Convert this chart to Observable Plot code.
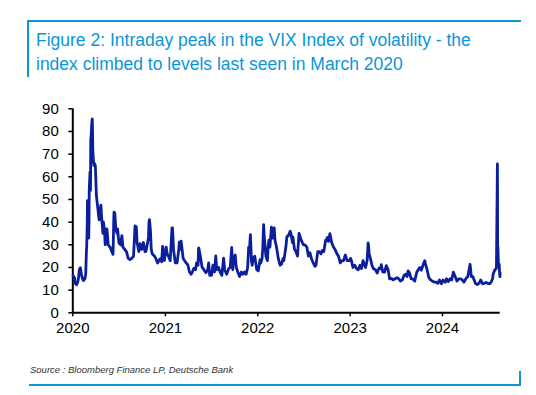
<!DOCTYPE html>
<html>
<head>
<meta charset="utf-8">
<script src="https://cdn.jsdelivr.net/npm/d3@7"></script>
<script src="https://cdn.jsdelivr.net/npm/@observablehq/plot@0.6"></script>
<style>
  html, body { margin: 0; padding: 0; background: #fff; }
  #wrap { width: 536px; height: 395px; position: relative; overflow: hidden; font-family: "Liberation Sans", Arial, sans-serif; }
  #header { position: relative; height: 95px; }
  #hbox { position: absolute; left: 27px; top: 20px; width: 492px; height: 55px; border-top: 2px solid #0a96d8; border-left: 2px solid #0a96d8; }
  #title { position: absolute; left: 36px; top: 28px; font-size: 17.5px; line-height: 24px; color: #0a96d8; white-space: nowrap; }
  #chart { height: 250px; }
  #footer { position: relative; height: 50px; }
  #fbox { position: absolute; left: 29px; top: 26px; width: 490px; height: 13px; border-bottom: 2px solid #0a96d8; border-right: 2px solid #0a96d8; }
  #source { position: absolute; left: 30px; top: 19px; font-size: 9.5px; font-style: italic; color: #333; white-space: nowrap; }
</style>
</head>
<body>
<div id="wrap">
  <div id="header">
    <div id="hbox"></div>
    <div id="title">Figure 2: Intraday peak in the VIX Index of volatility - the<br>index climbed to levels last seen in March 2020</div>
  </div>
  <div id="chart"></div>
  <div id="footer">
    <div id="fbox"></div>
    <div id="source">Source : Bloomberg Finance LP, Deutsche Bank</div>
  </div>
</div>
<script>
const dates = [
"2020-01-02","2020-01-03","2020-01-08","2020-01-10","2020-01-16","2020-01-21","2020-01-24","2020-01-27","2020-01-31",
"2020-02-04","2020-02-07","2020-02-12","2020-02-18","2020-02-21","2020-02-24","2020-02-25","2020-02-27","2020-02-28",
"2020-03-02","2020-03-04","2020-03-05","2020-03-06","2020-03-09","2020-03-10","2020-03-11","2020-03-12","2020-03-13",
"2020-03-16","2020-03-17","2020-03-18","2020-03-19","2020-03-20","2020-03-23","2020-03-24","2020-03-26","2020-03-30",
"2020-04-01","2020-04-03","2020-04-07","2020-04-09","2020-04-14","2020-04-17","2020-04-21","2020-04-24","2020-04-29",
"2020-05-01","2020-05-05","2020-05-08","2020-05-13","2020-05-15","2020-05-20","2020-05-27","2020-06-03","2020-06-08",
"2020-06-11","2020-06-12","2020-06-15","2020-06-19","2020-06-24","2020-06-26","2020-07-01","2020-07-08","2020-07-13",
"2020-07-17","2020-07-24","2020-07-31","2020-08-07","2020-08-14","2020-08-21","2020-08-28","2020-09-03","2020-09-08",
"2020-09-11","2020-09-18","2020-09-23","2020-09-29","2020-10-06","2020-10-12","2020-10-16","2020-10-21","2020-10-26",
"2020-10-28","2020-10-30","2020-11-03","2020-11-06","2020-11-10","2020-11-19","2020-11-24","2020-12-01","2020-12-09",
"2020-12-14","2020-12-17","2020-12-21","2020-12-28",
"2021-01-04","2021-01-08","2021-01-13","2021-01-20","2021-01-27","2021-01-29","2021-02-02","2021-02-09","2021-02-16",
"2021-02-23","2021-02-25","2021-03-01","2021-03-04","2021-03-08","2021-03-12","2021-03-18","2021-03-24","2021-03-31",
"2021-04-06","2021-04-13","2021-04-19","2021-04-23","2021-04-30","2021-05-04","2021-05-10","2021-05-12","2021-05-13",
"2021-05-19","2021-05-26","2021-06-02","2021-06-10","2021-06-17","2021-06-21","2021-06-25","2021-07-02","2021-07-08",
"2021-07-14","2021-07-19","2021-07-23","2021-07-30","2021-08-05","2021-08-12","2021-08-19","2021-08-23","2021-08-31",
"2021-09-08","2021-09-14","2021-09-20","2021-09-24","2021-09-28","2021-10-04","2021-10-08","2021-10-14","2021-10-21",
"2021-10-28","2021-11-03","2021-11-09","2021-11-16","2021-11-22","2021-11-26","2021-11-30","2021-12-01","2021-12-03",
"2021-12-07","2021-12-10","2021-12-14","2021-12-20","2021-12-28",
"2022-01-03","2022-01-05","2022-01-10","2022-01-13","2022-01-18","2022-01-21","2022-01-24","2022-01-27","2022-01-28",
"2022-02-02","2022-02-08","2022-02-11","2022-02-14","2022-02-18","2022-02-24","2022-02-28","2022-03-04","2022-03-07",
"2022-03-10","2022-03-16","2022-03-23","2022-03-30","2022-04-05","2022-04-11","2022-04-14","2022-04-22","2022-04-26",
"2022-04-29","2022-05-02","2022-05-09","2022-05-12","2022-05-18","2022-05-20","2022-05-26","2022-06-01","2022-06-07",
"2022-06-13","2022-06-16","2022-06-22","2022-06-30","2022-07-06","2022-07-14","2022-07-20","2022-07-26","2022-08-01",
"2022-08-08","2022-08-15","2022-08-19","2022-08-26","2022-09-01","2022-09-08","2022-09-13","2022-09-19","2022-09-26",
"2022-09-30","2022-10-03","2022-10-07","2022-10-13","2022-10-20","2022-10-27","2022-11-03","2022-11-10","2022-11-16",
"2022-11-23","2022-11-30","2022-12-06","2022-12-13","2022-12-20","2022-12-28",
"2023-01-03","2023-01-06","2023-01-12","2023-01-19","2023-01-26","2023-02-02","2023-02-09","2023-02-15","2023-02-21",
"2023-02-28","2023-03-03","2023-03-09","2023-03-13","2023-03-15","2023-03-17","2023-03-22","2023-03-28","2023-04-03",
"2023-04-11","2023-04-18","2023-04-25","2023-05-02","2023-05-04","2023-05-10","2023-05-17","2023-05-24","2023-05-31",
"2023-06-06","2023-06-13","2023-06-20","2023-06-27","2023-07-05","2023-07-12","2023-07-19","2023-07-26","2023-08-02",
"2023-08-08","2023-08-14","2023-08-18","2023-08-24","2023-08-30","2023-09-06","2023-09-13","2023-09-21","2023-09-27",
"2023-10-03","2023-10-09","2023-10-13","2023-10-20","2023-10-23","2023-10-26","2023-11-01","2023-11-08","2023-11-15",
"2023-11-22","2023-11-30","2023-12-07","2023-12-14","2023-12-20","2023-12-28",
"2024-01-03","2024-01-08","2024-01-12","2024-01-17","2024-01-24","2024-01-31","2024-02-06","2024-02-13","2024-02-20",
"2024-02-27","2024-03-05","2024-03-12","2024-03-19","2024-03-26","2024-04-02","2024-04-10","2024-04-16","2024-04-19",
"2024-04-24","2024-04-30","2024-05-03","2024-05-10","2024-05-17","2024-05-24","2024-05-31","2024-06-07","2024-06-14",
"2024-06-21","2024-06-28","2024-07-05","2024-07-11","2024-07-17","2024-07-19","2024-07-24","2024-07-30","2024-08-01",
"2024-08-02","2024-08-05","2024-08-06","2024-08-07","2024-08-08","2024-08-09","2024-08-12","2024-08-13","2024-08-14",
"2024-08-15","2024-08-16"
];
const vixHigh = [
16.5,16.2,15.4,13.0,12.4,13.7,15.8,19.0,19.9,
17.0,15.5,14.2,15.0,17.0,27.9,29.2,39.2,49.5,
39.9,33.0,40.0,54.4,62.1,57.0,54.0,76.8,77.0,
83.6,84.8,85.5,80.0,72.0,66.0,65.0,66.0,65.0,
59.0,52.0,48.0,46.0,41.0,45.0,47.5,42.0,35.0,
40.0,37.0,30.0,35.0,37.0,30.0,29.0,27.0,25.8,
41.5,44.4,44.0,37.0,35.0,37.0,31.0,30.0,34.0,
29.0,28.0,27.0,24.0,23.5,24.0,25.0,38.3,38.0,
31.0,27.0,30.5,28.0,31.0,27.0,27.0,30.0,33.0,
40.0,41.1,36.0,28.0,26.0,25.0,24.0,22.0,23.5,
24.0,22.5,29.3,23.0,
29.0,26.0,25.0,23.0,37.5,37.5,28.0,22.0,22.0,
28.0,31.2,28.0,31.6,28.0,24.0,23.0,22.0,21.0,
18.0,17.0,18.4,19.6,19.0,22.0,21.0,28.4,28.6,
25.0,20.0,19.0,17.7,19.0,22.0,16.5,16.5,21.0,
18.0,25.1,19.0,20.0,18.0,16.5,24.1,19.0,17.0,
19.5,20.0,28.8,19.0,24.0,25.5,20.0,18.0,16.0,
18.0,17.0,18.0,17.0,20.0,29.0,28.6,31.4,34.5,
23.0,21.0,24.0,25.0,19.0,
18.5,20.0,23.4,22.0,24.0,29.0,38.9,33.0,32.0,
25.0,23.0,29.0,32.0,29.0,37.8,33.0,33.0,37.5,
32.0,29.0,24.0,21.0,21.5,24.0,23.0,29.0,33.5,
34.0,34.0,36.0,35.0,31.0,33.4,28.0,27.0,25.0,
35.0,34.0,32.0,30.0,30.0,29.0,25.0,26.5,24.0,
22.0,20.5,21.0,27.0,27.0,26.0,27.5,27.0,32.0,
32.3,33.2,31.5,34.9,31.0,29.0,27.8,26.0,25.0,
22.0,23.0,23.0,25.5,23.0,23.0,
24.0,23.0,20.0,21.0,19.5,19.0,21.0,19.5,23.0,
21.0,20.0,23.0,30.8,29.5,26.0,24.0,21.0,19.5,
19.0,17.5,19.7,19.5,21.2,18.0,18.0,20.8,19.0,
15.0,15.2,14.5,15.0,15.5,15.0,14.0,14.5,16.5,
17.0,16.0,18.5,17.5,15.0,15.0,14.0,17.8,19.0,
20.0,18.8,20.0,22.3,23.0,21.5,19.0,15.5,14.5,
14.0,13.5,13.5,13.0,14.5,12.8,
14.5,14.0,13.5,15.0,13.8,15.0,14.5,17.9,16.0,
14.0,15.0,15.0,14.5,13.5,15.0,16.0,19.7,21.4,
16.0,16.0,15.0,13.0,12.5,13.0,14.5,12.8,13.0,
13.4,13.0,12.8,13.5,15.0,17.0,18.5,19.5,19.5,
29.7,65.7,28.0,29.0,25.0,21.0,21.5,19.0,17.0,
16.0,17.5
];
const yTicks = [0,10,20,30,40,50,60,70,80,90];
const xTickYears = ["2020-01-01","2021-01-01","2022-01-01","2023-01-01","2024-01-01"];

const data = dates.map((d, i) => ({date: new Date(d + "T00:00:00Z"), value: vixHigh[i]}));
const xStart = new Date("2020-01-01T00:00:00Z");
const xEnd = new Date("2024-08-16T00:00:00Z");

const chart = Plot.plot({
  width: 536,
  height: 250,
  marginLeft: 72.3,
  marginRight: 36.3,
  marginTop: 13.3,
  marginBottom: 32.7,
  style: {fontFamily: "'Liberation Sans', Arial, sans-serif", fontSize: "15px", color: "#000", background: "transparent"},
  x: {type: "utc", domain: [xStart, xEnd]},
  y: {domain: [0, 90]},
  marks: [
    Plot.axisX(xTickYears.map(s => new Date(s + "T00:00:00Z")), {tickFormat: d3.utcFormat("%Y"), tickSize: 4, tickPadding: 6, label: null, stroke: "#000", strokeWidth: 1.5}),
    Plot.axisY(yTicks, {tickSize: 4, tickPadding: 10, label: null, stroke: "#000", strokeWidth: 1.5}),
    Plot.ruleY([0], {stroke: "#000", strokeWidth: 2}),
    Plot.ruleX([xStart], {stroke: "#000", strokeWidth: 2}),
    Plot.line(data, {x: "date", y: "value", stroke: "#0b1f9c", strokeWidth: 2.8, strokeLinejoin: "round"})
  ]
});
document.getElementById("chart").appendChild(chart);
</script>
</body>
</html>
